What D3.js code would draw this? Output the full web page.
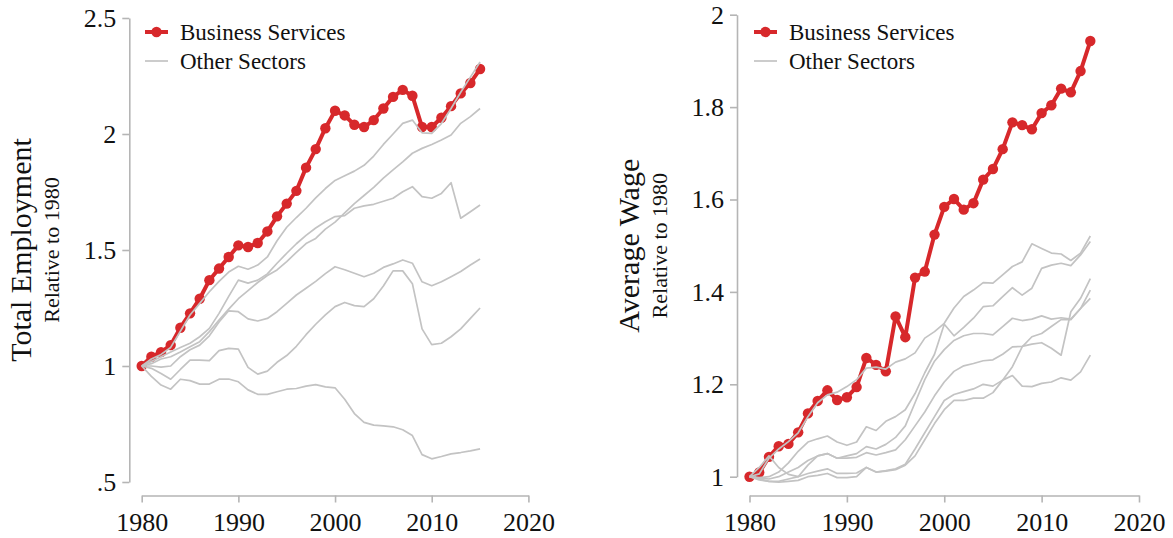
<!DOCTYPE html>
<html><head><meta charset="utf-8">
<script src="https://cdn.jsdelivr.net/npm/d3@7"></script>
<style>body{margin:0;background:#fff}svg{display:block}</style>
</head><body>
<svg id="chart" width="1173" height="538"></svg>
<script>
const years = [1980,1981,1982,1983,1984,1985,1986,1987,1988,1989,1990,1991,1992,1993,1994,1995,1996,1997,1998,1999,2000,2001,2002,2003,2004,2005,2006,2007,2008,2009,2010,2011,2012,2013,2014,2015];

// Total employment relative to 1980
const empBusiness = [1.00,1.04,1.06,1.09,1.165,1.227,1.29,1.37,1.42,1.47,1.52,1.513,1.53,1.58,1.645,1.70,1.755,1.855,1.935,2.025,2.10,2.08,2.04,2.03,2.06,2.11,2.16,2.19,2.165,2.03,2.03,2.07,2.12,2.175,2.22,2.28];
const empOther1 = [1.00,1.03,1.05,1.08,1.15,1.22,1.27,1.32,1.365,1.405,1.43,1.417,1.435,1.47,1.54,1.598,1.64,1.68,1.725,1.765,1.80,1.82,1.84,1.865,1.905,1.955,2.00,2.046,2.06,2.005,2.003,2.045,2.11,2.18,2.245,2.31];
const empOther2 = [1.00,1.01,1.03,1.04,1.06,1.083,1.105,1.148,1.198,1.245,1.29,1.325,1.36,1.39,1.414,1.45,1.49,1.528,1.55,1.59,1.62,1.66,1.70,1.735,1.77,1.81,1.845,1.88,1.917,1.938,1.955,1.974,1.996,2.046,2.075,2.11];
const empOther3 = [1.00,1.02,1.04,1.06,1.08,1.098,1.126,1.162,1.227,1.30,1.37,1.357,1.37,1.397,1.443,1.486,1.527,1.563,1.595,1.622,1.644,1.648,1.68,1.69,1.697,1.71,1.723,1.751,1.773,1.73,1.723,1.744,1.79,1.637,1.665,1.694];
const empOther4 = [1.00,1.00,0.995,1.00,1.04,1.07,1.09,1.13,1.19,1.238,1.234,1.203,1.194,1.205,1.234,1.27,1.306,1.335,1.365,1.398,1.428,1.415,1.40,1.385,1.40,1.425,1.44,1.457,1.443,1.363,1.346,1.363,1.385,1.407,1.435,1.461];
const empOther5 = [1.00,0.99,0.968,0.943,0.985,1.025,1.025,1.023,1.066,1.076,1.073,0.994,0.965,0.978,1.016,1.045,1.085,1.135,1.18,1.22,1.256,1.274,1.26,1.256,1.29,1.345,1.41,1.41,1.355,1.16,1.092,1.098,1.126,1.16,1.205,1.25];
const empOther6 = [1.00,0.955,0.918,0.90,0.943,0.937,0.922,0.922,0.943,0.944,0.932,0.897,0.878,0.878,0.889,0.90,0.903,0.913,0.92,0.91,0.906,0.857,0.795,0.757,0.745,0.742,0.738,0.725,0.70,0.618,0.60,0.61,0.621,0.627,0.634,0.643];

// Average wage relative to 1980
const wageBusiness = [1.00,1.009,1.043,1.066,1.071,1.096,1.137,1.164,1.187,1.166,1.172,1.194,1.257,1.242,1.228,1.347,1.302,1.431,1.444,1.524,1.584,1.601,1.578,1.592,1.643,1.666,1.709,1.767,1.761,1.752,1.787,1.804,1.84,1.832,1.878,1.943];
const wageOther1 = [1.00,1.006,1.04,1.06,1.076,1.095,1.13,1.16,1.177,1.183,1.195,1.21,1.235,1.237,1.233,1.248,1.255,1.268,1.30,1.314,1.332,1.365,1.39,1.404,1.42,1.419,1.437,1.455,1.465,1.504,1.494,1.484,1.482,1.468,1.484,1.521];
const wageOther2 = [1.00,0.998,1.00,1.01,1.03,1.055,1.075,1.082,1.088,1.075,1.068,1.075,1.108,1.10,1.12,1.13,1.145,1.18,1.225,1.265,1.33,1.305,1.323,1.343,1.368,1.37,1.39,1.409,1.393,1.408,1.451,1.458,1.462,1.457,1.48,1.509];
const wageOther3 = [1.00,0.997,0.995,1.00,1.01,1.02,1.035,1.045,1.05,1.04,1.04,1.042,1.052,1.047,1.052,1.058,1.08,1.11,1.14,1.175,1.205,1.228,1.24,1.245,1.251,1.253,1.265,1.281,1.282,1.287,1.29,1.278,1.263,1.357,1.386,1.429];
const wageOther4 = [1.00,0.993,0.99,0.988,0.99,0.992,1.00,1.003,1.007,0.998,0.998,1.00,1.02,1.01,1.012,1.015,1.025,1.045,1.08,1.115,1.145,1.165,1.165,1.17,1.17,1.182,1.209,1.238,1.281,1.303,1.31,1.325,1.34,1.34,1.364,1.404];
const wageOther5 = [1.00,1.02,1.045,1.02,1.005,1.00,1.025,1.045,1.05,1.04,1.045,1.05,1.065,1.06,1.07,1.085,1.11,1.16,1.21,1.25,1.275,1.295,1.305,1.31,1.31,1.307,1.325,1.343,1.338,1.341,1.348,1.341,1.344,1.341,1.364,1.386];
const wageOther6 = [1.00,0.995,0.99,0.99,0.995,1.00,1.007,1.012,1.017,1.007,1.007,1.008,1.02,1.01,1.013,1.017,1.027,1.06,1.095,1.13,1.165,1.178,1.184,1.19,1.20,1.196,1.209,1.219,1.196,1.195,1.202,1.205,1.214,1.209,1.227,1.263];

const xTicks = [1980,1990,2000,2010,2020];
const empTicks = [0.5,1,1.5,2,2.5];
const empTickLabels = [".5","1","1.5","2","2.5"];
const wageTicks = [1,1.2,1.4,1.6,1.8,2];
const wageTickLabels = ["1","1.2","1.4","1.6","1.8","2"];
const legendLabels = ["Business Services","Other Sectors"];

const RED = "#d7282b", GRAY = "#c3c3c3", AXIS = "#b5b5b5", INK = "#111";
const FONT = "'Liberation Serif', 'DejaVu Serif', serif";

const svg = d3.select("#chart");

function panel(cfg) {
  const g = svg.append("g");
  const x = d3.scaleLinear().domain([1980, 2020]).range(cfg.xRange);
  const y = d3.scaleLinear().domain(cfg.yDomain).range(cfg.yRange);

  const ya = g.append("g").attr("transform", `translate(${cfg.yAxisX},0)`)
    .call(d3.axisLeft(y).tickValues(cfg.yTicks)
      .tickFormat((d, i) => cfg.yTickLabels[i]).tickSize(7).tickSizeOuter(0).tickPadding(6));
  const xa = g.append("g").attr("transform", `translate(0,${cfg.xAxisY})`)
    .call(d3.axisBottom(x).tickValues(xTicks).tickFormat(d3.format("d"))
      .tickSize(7).tickSizeOuter(0).tickPadding(10));
  [ya, xa].forEach(a => {
    a.select(".domain").attr("stroke", AXIS).attr("stroke-width", 1.6);
    a.selectAll(".tick line").attr("stroke", AXIS).attr("stroke-width", 1.6);
    a.selectAll(".tick text").attr("fill", INK).style("font-family", FONT).style("font-size", "26px");
  });

  const line = d3.line().x((d, i) => x(years[i])).y(d => y(d));

  g.append("path").datum(cfg.business).attr("d", line)
    .attr("fill", "none").attr("stroke", RED).attr("stroke-width", 4).attr("stroke-linejoin", "round");
  g.selectAll("circle.bs").data(cfg.business).join("circle").attr("class", "bs")
    .attr("cx", (d, i) => x(years[i])).attr("cy", d => y(d)).attr("r", 5.2).attr("fill", RED);

  cfg.others.forEach(s => {
    g.append("path").datum(s).attr("d", line)
      .attr("fill", "none").attr("stroke", GRAY).attr("stroke-width", 1.7).attr("stroke-linejoin", "round");
  });

  const cy = (cfg.yRange[0] + cfg.yRange[1]) / 2;
  g.append("text").attr("transform", `translate(${cfg.titleX},${cy}) rotate(-90)`)
    .attr("text-anchor", "middle").attr("fill", INK)
    .style("font-family", FONT).style("font-size", "30px").text(cfg.title);
  g.append("text").attr("transform", `translate(${cfg.subX},${cy}) rotate(-90)`)
    .attr("text-anchor", "middle").attr("fill", INK)
    .style("font-family", FONT).style("font-size", "22px").text("Relative to 1980");

  const lx = cfg.legendX;
  g.append("line").attr("x1", lx).attr("x2", lx + 23).attr("y1", 32).attr("y2", 32)
    .attr("stroke", RED).attr("stroke-width", 4);
  g.append("circle").attr("cx", lx + 11.5).attr("cy", 32).attr("r", 5.2).attr("fill", RED);
  g.append("line").attr("x1", lx).attr("x2", lx + 23).attr("y1", 61).attr("y2", 61)
    .attr("stroke", GRAY).attr("stroke-width", 1.7);
  legendLabels.forEach((t, i) => {
    g.append("text").attr("x", lx + 35).attr("y", 40 + i * 29).attr("fill", INK)
      .style("font-family", FONT).style("font-size", "23px").text(t);
  });
}

panel({
  xRange: [141.7, 528.4], yRange: [482, 18], yDomain: [0.5, 2.5],
  yAxisX: 129.3, xAxisY: 495.5,
  yTicks: empTicks, yTickLabels: empTickLabels,
  business: empBusiness,
  others: [empOther1, empOther2, empOther3, empOther4, empOther5, empOther6],
  title: "Total Employment", titleX: 31, subX: 59, legendX: 145
});

panel({
  xRange: [749.5, 1139], yRange: [476.7, 14.7], yDomain: [1, 2],
  yAxisX: 737, xAxisY: 495.5,
  yTicks: wageTicks, yTickLabels: wageTickLabels,
  business: wageBusiness,
  others: [wageOther1, wageOther2, wageOther3, wageOther4, wageOther5, wageOther6],
  title: "Average Wage", titleX: 639, subX: 667, legendX: 754
});
</script>
</body></html>
